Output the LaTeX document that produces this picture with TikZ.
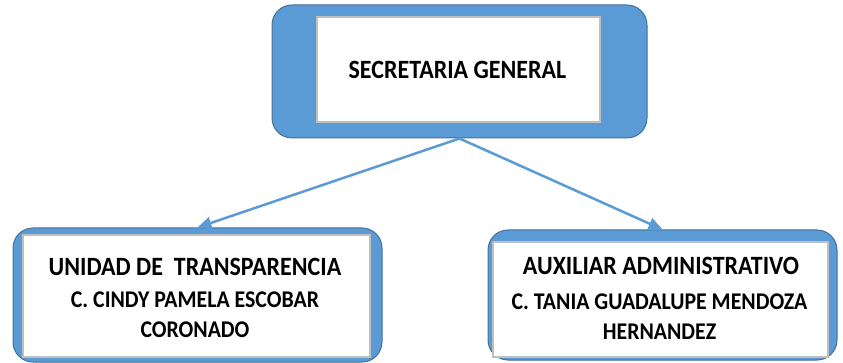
\documentclass[tikz,border=0pt]{standalone}
\usepackage{fontspec}
\setmainfont{Carlito}
\usetikzlibrary{arrows.meta}
\definecolor{boxblue}{HTML}{5B9BD5}
\definecolor{boxedge}{HTML}{41719C}
\definecolor{innergray}{HTML}{BFBFBF}
\tikzset{
  outerbox/.style={draw=boxedge, fill=boxblue, line width=1pt, rounded corners=20pt, inner sep=0pt},
  innerbox/.style={draw=innergray, fill=white, line width=1.5pt, inner sep=0pt},
  bigtext/.style={anchor=base, inner sep=0pt, font=\bfseries\fontsize{24}{28}\selectfont},
  smalltext/.style={anchor=base, inner sep=0pt, font=\bfseries\fontsize{21.8}{26}\selectfont},
  link/.style={draw=boxblue, line width=2.5pt, -{Triangle[length=14pt,width=12pt]}},
}
\newcommand{\tall}[1]{\scalebox{1}[1.1]{#1}}
\begin{document}
\begin{tikzpicture}[x=1pt,y=-1pt]
\useasboundingbox (0,0) rectangle (843,363);
% top
\node[outerbox, minimum width=375pt, minimum height=133pt] (topO) at (459.5,71.5) {};
\node[innerbox, minimum width=283pt, minimum height=105pt] (topI) at (458.5,69.5) {};
\node[bigtext] (topT) at (457.5,79) {\tall{SECRETARIA GENERAL}};
% left
\node[outerbox, minimum width=369pt, minimum height=134pt] (leftO) at (197.5,295) {};
\node[innerbox, minimum width=347pt, minimum height=122pt] (leftI) at (196.5,296) {};
\node[bigtext] (leftT1) at (195,276) {\tall{UNIDAD DE\ \ TRANSPARENCIA}};
\node[smalltext] (leftT2) at (195,307) {\tall{C. CINDY PAMELA ESCOBAR}};
\node[smalltext] (leftT3) at (195,337) {\tall{CORONADO}};
% right
\node[outerbox, minimum width=349pt, minimum height=130pt] (rightO) at (662.5,295) {};
\node[innerbox, minimum width=335pt, minimum height=115pt] (rightI) at (660.5,299.5) {};
\node[bigtext] (rightT1) at (661,275) {\tall{AUXILIAR ADMINISTRATIVO}};
\node[smalltext] (rightT2) at (659.5,309) {\tall{C. TANIA GUADALUPE MENDOZA}};
\node[smalltext] (rightT3) at (659.5,339) {\tall{HERNANDEZ}};
% connectors
\draw[link] (topO.south) -- (leftO.north);
\draw[link] (topO.south) -- (rightO.north);
\end{tikzpicture}
\end{document}
